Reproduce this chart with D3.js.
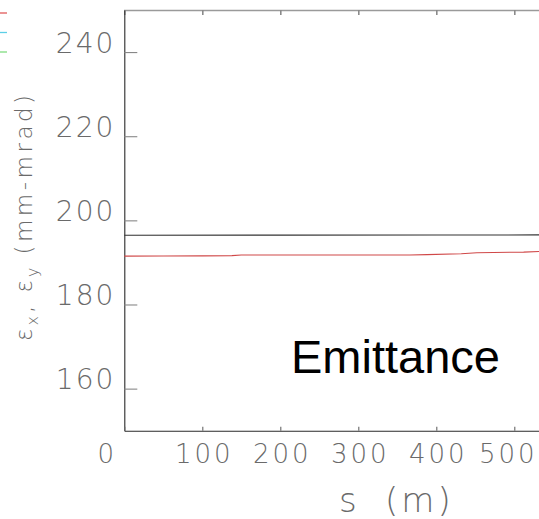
<!DOCTYPE html>
<html>
<head>
<meta charset="utf-8">
<script src="https://cdn.jsdelivr.net/npm/d3@7"></script>
<style>
  html, body { margin: 0; padding: 0; background: #fff; }
  svg { display: block; }
  .thin { font-family: "DejaVu Sans", sans-serif; font-weight: 200; fill: #6a6a6a; }
</style>
</head>
<body>
<svg id="chart" width="539" height="519"></svg>
<script>
// Beam emittance along the line, s in metres, emittance in mm-mrad
const sRed   = [0, 50, 100, 138, 150, 250, 366, 388, 432, 452, 512, 540];
const epsRed = [191.50, 191.52, 191.55, 191.62, 191.75, 191.76, 191.76, 191.85, 192.05, 192.30, 192.45, 192.65];
const sBlack   = [0, 200, 400, 540];
const epsBlack = [196.47, 196.48, 196.50, 196.55];

const xTicks = [0, 100, 200, 300, 400, 500];
const yTicks = [160, 180, 200, 220, 240];
const xDomain = [0, 540];
const yDomain = [150, 250];

const legendColors = ["#e05a5a", "#5ccfe6", "#7fdc7f"];

const svg = d3.select("#chart");
const plotLeft = 124.3, plotTop = 10, plotBottom = 430.7;
const pxPerUnitX = 0.78;

const x = d3.scaleLinear().domain(xDomain).range([plotLeft, plotLeft + (xDomain[1] - xDomain[0]) * pxPerUnitX]);
const y = d3.scaleLinear().domain(yDomain).range([plotBottom, plotTop]);

// Legend stubs (key clipped at the page edge)
svg.append("g").selectAll("line").data(legendColors).join("line")
  .attr("x1", -10).attr("x2", 7)
  .attr("y1", (d, i) => 13 + i * 19.5).attr("y2", (d, i) => 13 + i * 19.5)
  .attr("stroke", d => d).attr("stroke-width", 1.3);

// Frame: top edge with downward ticks
const topAxis = svg.append("g").attr("transform", `translate(0,${plotTop})`)
  .call(d3.axisTop(x).tickValues(xTicks.slice(1)).tickSize(-5).tickFormat(""));
topAxis.select(".domain").attr("stroke", "#9a9a9a").attr("stroke-width", 1.6);
topAxis.selectAll(".tick line").attr("stroke", "#8a8a8a").attr("stroke-width", 1.6);

// Left axis with inward ticks
const yAxis = svg.append("g").attr("transform", `translate(${plotLeft},0)`)
  .call(d3.axisLeft(y).tickValues(yTicks).tickSize(-13).tickPadding(9).tickSizeOuter(0));
yAxis.select(".domain").attr("stroke", "#2a2a2a").attr("stroke-width", 1.1);
yAxis.selectAll(".tick line").attr("stroke", "#888").attr("stroke-width", 1.1);
yAxis.selectAll(".tick text")
  .attr("class", "thin")
  .attr("dy", 0)
  .style("font-size", "28px")
  .style("letter-spacing", "2px");

// Bottom axis with upward ticks
const labelShift = {0: -19, 500: -8};
const xAxis = svg.append("g").attr("transform", `translate(0,${plotBottom})`)
  .call(d3.axisBottom(x).tickValues(xTicks).tickSize(-4).tickPadding(14).tickSizeOuter(0));
xAxis.select(".domain").attr("stroke", "#2a2a2a").attr("stroke-width", 1.1);
xAxis.selectAll(".tick line").attr("stroke", "#666").attr("stroke-width", 1.1);
xAxis.selectAll(".tick text")
  .attr("class", "thin")
  .attr("dx", d => (labelShift[d] || 0) + 1.5)
  .style("font-size", "26px")
  .style("letter-spacing", "3px");

// Series
const line = d3.line().x(d => x(d[0])).y(d => y(d[1]));
svg.append("path")
  .datum(d3.zip(sBlack, epsBlack))
  .attr("d", line).attr("fill", "none")
  .attr("stroke", "#333").attr("stroke-width", 1.1);
svg.append("path")
  .datum(d3.zip(sRed, epsRed))
  .attr("d", line).attr("fill", "none")
  .attr("stroke", "#d04848").attr("stroke-width", 1.1);

// Axis titles (y title reads bottom-to-top from its start point)
const yTitle = svg.append("text")
  .attr("class", "thin")
  .attr("transform", "translate(32,341) rotate(-90)")
  .attr("text-anchor", "start")
  .style("font-size", "23px")
  .style("letter-spacing", "3px");
yTitle.append("tspan").text("ε");
yTitle.append("tspan").attr("dy", 6).style("font-size", "16px").text("x");
yTitle.append("tspan").attr("dy", -6).text(", ε");
yTitle.append("tspan").attr("dy", 6).style("font-size", "16px").text("y");
yTitle.append("tspan").attr("dy", -6).attr("dx", 10)
  .style("letter-spacing", "3.5px").text("(mm-mrad)");

const xTitle = svg.append("text")
  .attr("class", "thin")
  .attr("y", 512)
  .style("font-size", "34px")
  .style("letter-spacing", "3px");
xTitle.append("tspan").attr("x", 339).text("s");
xTitle.append("tspan").attr("x", 385).text("(m)");

// Panel label
svg.append("text")
  .attr("x", 291).attr("y", 373)
  .style("font-family", "'Liberation Sans', Arial, sans-serif")
  .style("font-size", "47px")
  .style("fill", "#000")
  .text("Emittance");
</script>
</body>
</html>
